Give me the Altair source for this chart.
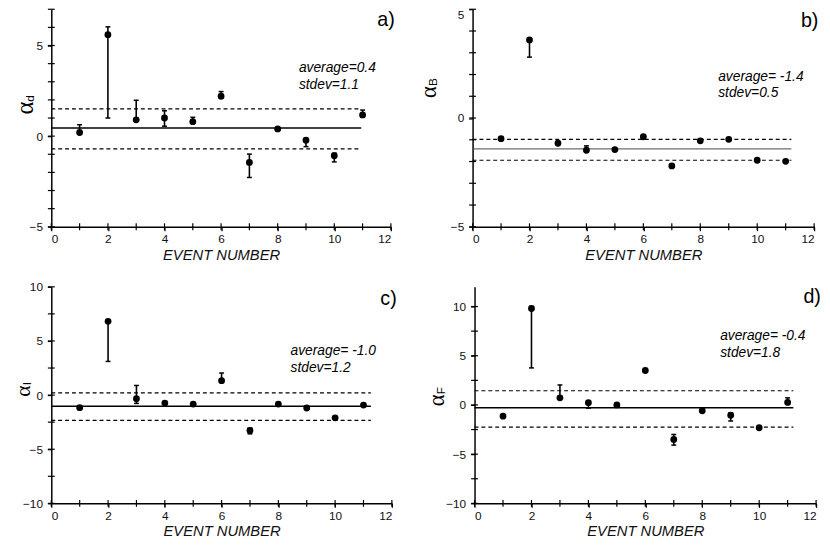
import altair as alt
import pandas as pd

events = list(range(1, 12))

# panel a) alpha_d
a_val = [0.2, 5.6, 0.9, 1.0, 0.8, 2.2, -1.45, 0.4, -0.22, -1.08, 1.17]
a_lo = [0.2, 1.0, 0.9, 0.55, 0.8, 2.1, -2.28, 0.33, -0.58, -1.42, 1.04]
a_hi = [0.63, 6.03, 1.98, 1.4, 1.04, 2.46, -0.99, 0.47, -0.13, -0.94, 1.44]
a_avg = [0.45, 1.5, -0.7]
a_end = 10.95

# panel b) alpha_B
b_val = [-0.95, 3.59, -1.16, -1.48, -1.45, -0.86, -2.2, -1.05, -0.98, -1.94, -1.99]
b_lo = [-0.95, 2.8, -1.16, -1.48, -1.45, -0.86, -2.2, -1.05, -0.98, -1.94, -1.99]
b_hi = [-0.95, 3.59, -1.16, -1.28, -1.45, -0.86, -2.2, -1.05, -0.98, -1.94, -1.99]
b_avg = [-1.42, -0.98, -1.94]
b_end = 11.2

# panel c) alpha_I
c_val = [-1.16, 6.81, -0.33, -0.74, -0.83, 1.33, -3.26, -0.83, -1.19, -2.10, -0.92]
c_lo = [-1.16, 3.11, -0.77, -0.74, -0.83, 1.33, -3.58, -0.83, -1.19, -2.10, -0.92]
c_hi = [-1.16, 6.81, 0.89, -0.74, -0.83, 2.04, -3.05, -0.83, -1.19, -2.10, -0.92]
c_avg = [-1.04, 0.21, -2.34]
c_end = 11.26

# panel d) alpha_F
d_val = [-1.14, 9.8, 0.72, 0.23, 0.0, 3.5, -3.5, -0.59, -1.05, -2.32, 0.26]
d_lo = [-1.14, 3.76, 0.72, -0.33, 0.0, 3.5, -4.08, -0.59, -1.63, -2.32, 0.07]
d_hi = [-1.14, 10.0, 2.03, 0.42, 0.0, 3.5, -3.0, -0.59, -0.82, -2.32, 0.72]
d_avg = [-0.29, 1.44, -2.25]
d_end = 11.2

# ticks (all) and labelled tick values
x_ticks = list(range(0, 13))
x_labels = [0, 2, 4, 6, 8, 10, 12]
a_yticks = list(range(-5, 8))
b_yticks = list(range(-5, 6))
c_yticks = [-10, -7.5, -5, -2.5, 0, 2.5, 5, 7.5, 10]
d_yticks = [-10, -7.5, -5, -2.5, 0, 2.5, 5, 7.5, 10]
ab_ylabels = [-5, 0, 5]
cd_ylabels = [-10, -5, 0, 5, 10]

a_note = ["average=0.4", "stdev=1.1"]
b_note = ["average= -1.4", "stdev=0.5"]
c_note = ["average= -1.0", "stdev=1.2"]
d_note = ["average= -0.4", "stdev=1.8"]

x_title = "EVENT NUMBER"
one = pd.DataFrame({"k": [0]})


def panel(vals, lo, hi, avg, end, ydom, yticks, ylabels, note, note_xy, tag, tag_xy,
          sub, ax_x, ax_y, ax_size, w, h, mean_color, mean_width, top_value=None):
    pts = pd.DataFrame({"event": events, "value": vals, "lo": lo, "hi": hi})
    bars = pts[pts["hi"] > pts["lo"]]
    caps = pd.DataFrame({"event": list(bars["event"]) * 2,
                         "cap": list(bars["lo"]) + list(bars["hi"])})
    ref = pd.DataFrame({"x0": [0, 0, 0], "x1": [end] * 3, "y": avg,
                        "kind": ["mean", "sd", "sd"]})
    yt = pd.DataFrame({"ytick": yticks, "xaxis_pos": [0] * len(yticks)})
    xt = pd.DataFrame({"xtick": x_ticks, "yaxis_pos": [ydom[0]] * len(x_ticks)})

    xs = alt.Scale(domain=[0, 12], nice=False, zero=False)
    ys = alt.Scale(domain=ydom, nice=False, zero=False)
    xaxis = alt.Axis(values=x_labels, title=x_title, labelOverlap=False, ticks=True,
                     tickSize=4, labelPadding=3)
    ykw = dict(values=ylabels, title=None, labelOverlap=False, ticks=True, tickSize=4,
               labelPadding=5)
    if top_value is not None:
        ykw["labelBaseline"] = {"condition": {"test": "datum.value == %s" % top_value, "value": "top"},
                                "value": "middle"}
    yaxis = alt.Axis(**ykw)

    def X(f):
        return alt.X(f, type="quantitative", scale=xs, axis=xaxis)

    def Y(f):
        return alt.Y(f, type="quantitative", scale=ys, axis=yaxis)

    def XD(v):
        return alt.XDatum(v, type="quantitative", scale=xs, axis=xaxis)

    def YD(v):
        return alt.YDatum(v, type="quantitative", scale=ys, axis=yaxis)

    mean = alt.Chart(ref[ref["kind"] == "mean"]).mark_rule(
        color=mean_color, strokeWidth=mean_width).encode(x=X("x0"), x2="x1", y=Y("y"))
    sd = alt.Chart(ref[ref["kind"] == "sd"]).mark_rule(
        color="black", strokeWidth=1.2, strokeDash=[4, 3]).encode(x=X("x0"), x2="x1", y=Y("y"))
    # axis ticks crossing the axis lines
    ytick = alt.Chart(yt).mark_tick(orient="horizontal", size=7, thickness=1.2,
                                    color="black", opacity=1).encode(
        x=X("xaxis_pos"), y=Y("ytick"))
    xtick = alt.Chart(xt).mark_tick(orient="vertical", size=7, thickness=1.2,
                                    color="black", opacity=1).encode(
        x=X("xtick"), y=Y("yaxis_pos"))
    bar = alt.Chart(bars).mark_rule(color="black", strokeWidth=1.6).encode(
        x=X("event"), y=Y("lo"), y2="hi")
    cap = alt.Chart(caps).mark_tick(orient="horizontal", size=5, thickness=1.5,
                                    color="black", opacity=1).encode(x=X("event"), y=Y("cap"))
    dots = alt.Chart(pts).mark_circle(size=48, color="black", opacity=1).encode(
        x=X("event"), y=Y("value"))
    note_t = alt.Chart(one).mark_text(align="left", baseline="top", fontSize=14,
                                      fontStyle="italic", font="Liberation Sans",
                                      lineHeight=17, color="black").encode(
        x=XD(note_xy[0]), y=YD(note_xy[1]), text=alt.value(note))
    tag_t = alt.Chart(one).mark_text(align="right", baseline="middle", fontSize=20,
                                     font="Liberation Sans", color="black").encode(
        x=XD(tag_xy[0]), y=YD(tag_xy[1]), text=alt.value(tag))
    alpha_t = alt.Chart(one).mark_text(align="right", baseline="alphabetic", angle=270,
                                       fontSize=ax_size, font="Liberation Serif",
                                       color="black").encode(
        x=alt.value(ax_x), y=YD(ax_y), text=alt.value("α"))
    sub_t = alt.Chart(one).mark_text(align="left", baseline="alphabetic", angle=270,
                                     fontSize=12, font="Liberation Sans",
                                     color="black").encode(
        x=alt.value(ax_x + 1), y=YD(ax_y), text=alt.value(sub))
    return alt.layer(mean, sd, ytick, xtick, bar, cap, dots, note_t, tag_t, alpha_t,
                     sub_t).properties(width=w, height=h)


H1 = 221
H2 = 220
pa = panel(a_val, a_lo, a_hi, a_avg, a_end, [-5, 7], a_yticks, ab_ylabels, a_note,
           (8.75, 4.14), "a)", (12.14, 6.4), "d", -19, 1.9, 25, 345, H1, "black", 1.5)
pb = panel(b_val, b_lo, b_hi, b_avg, b_end, [-5, 5], b_yticks, ab_ylabels, b_note,
           (8.63, 2.22), "b)", (12.15, 4.44), "B", -37, 1.47, 23, 347, H1, "#444444", 1.0,
           top_value=5)
pc = panel(c_val, c_lo, c_hi, c_avg, c_end, [-10, 10], c_yticks, cd_ylabels, c_note,
           (8.43, 4.71), "c)", (12.17, 8.9), "I", -22, 0.9, 22, 346, H2, "black", 1.5)
pd_ = panel(d_val, d_lo, d_hi, d_avg, d_end, [-10, 12], d_yticks, cd_ylabels, d_note,
            (8.63, 7.65), "d)", (12.17, 11.0), "F", -31, 1.08, 23, 347, H2, "black", 1.5)

row1 = alt.hconcat(pa, pb, spacing=22)
row2 = alt.hconcat(pc, pd_, spacing=28)

chart = alt.vconcat(row1, row2, spacing=17).properties(
    padding={"left": 3, "top": -5, "right": 0, "bottom": 0}
).configure_axis(
    grid=False, domainColor="black", domainWidth=1.5, tickColor="black", tickWidth=1.2,
    labelFont="Liberation Sans", labelFontSize=12, labelColor="#111111",
    titleFont="Liberation Sans", titleFontSize=15, titleFontStyle="italic",
    titleFontWeight="normal", titleColor="#111111", titlePadding=3
).configure_view(stroke="transparent")

chart.save("out.html", embed_options={"renderer": "svg", "actions": False})
